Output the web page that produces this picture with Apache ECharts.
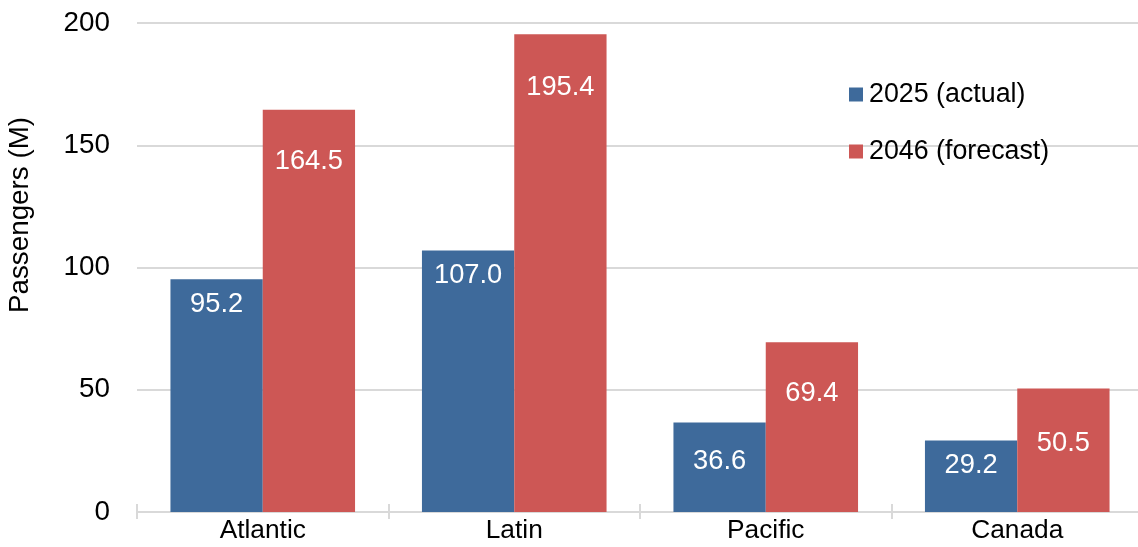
<!DOCTYPE html>
<html>
<head>
<meta charset="utf-8">
<title>Passengers by region</title>
<script src="https://cdn.jsdelivr.net/npm/echarts@6/dist/echarts.min.js"></script>
<style>
  html, body { margin: 0; padding: 0; background: #ffffff; }
  #chart { width: 1138px; height: 547px; }
</style>
</head>
<body>
<div id="chart"></div>
<script>
// Regions and passenger volumes (millions)
const regions = ['Atlantic', 'Latin', 'Pacific', 'Canada'];
const actual2025 = [95.2, 107.0, 36.6, 29.2];
const forecast2046 = [164.5, 195.4, 69.4, 50.5];
const seriesNames = ['2025 (actual)', '2046 (forecast)'];
const yTicks = [0, 50, 100, 150, 200];

// How far each value label sits below the top of its bar
const actualLabelDrop = [12, 12, 25, 11];
const forecastLabelDrop = [38, 40, 38, 41];

const FONT = '"Liberation Sans", Arial, Helvetica, sans-serif';
const BLUE = '#3E6A9B';
const RED = '#CD5755';
const GRID_GRAY = '#D9D9D9';

function barData(values, drops) {
  return values.map((v, i) => ({ value: v, label: { distance: drops[i] } }));
}

const chart = echarts.init(document.getElementById('chart'), null, { renderer: 'canvas' });

chart.setOption({
  animation: false,
  backgroundColor: '#ffffff',
  textStyle: { fontFamily: FONT },
  // plot area runs a few pixels past the right edge of the canvas
  grid: {
    left: 137, width: 1006, top: 23, bottom: 35,
    containLabel: false,
    outerBoundsMode: 'none'
  },
  legend: {
    orient: 'vertical',
    left: 849,
    top: 81,
    padding: 0,
    itemWidth: 14,
    itemHeight: 14,
    itemGap: 30,
    icon: 'rect',
    textStyle: { fontFamily: FONT, fontSize: 26.8, color: '#000000', padding: [0, 0, 0, 1] },
    data: seriesNames
  },
  graphic: [{
    type: 'text',
    x: 20,
    y: 215,
    rotation: Math.PI / 2,
    style: {
      text: 'Passengers (M)',
      fontFamily: FONT,
      fontSize: 27.8,
      fill: '#000000',
      align: 'center',
      verticalAlign: 'middle'
    }
  }],
  xAxis: [{
    type: 'category',
    data: regions,
    axisLine: { show: true, lineStyle: { color: GRID_GRAY, width: 2 } },
    axisTick: { show: true, length: 7, lineStyle: { color: GRID_GRAY, width: 2 } },
    axisLabel: { fontFamily: FONT, fontSize: 26.3, color: '#000000', margin: 6 },
    splitLine: { show: false }
  }, {
    // upper half of the category boundary ticks
    type: 'category',
    data: regions,
    position: 'bottom',
    axisLine: { show: false },
    axisTick: { show: true, inside: true, length: 8, lineStyle: { color: GRID_GRAY, width: 2 } },
    axisLabel: { show: false },
    splitLine: { show: false }
  }],
  yAxis: {
    type: 'value',
    min: yTicks[0],
    max: yTicks[yTicks.length - 1],
    interval: yTicks[1] - yTicks[0],
    axisLine: { show: false },
    axisTick: { show: false },
    axisLabel: { fontFamily: FONT, fontSize: 27.8, color: '#000000', margin: 27 },
    splitLine: { show: true, lineStyle: { color: GRID_GRAY, width: 2 } }
  },
  series: [{
    name: seriesNames[0],
    type: 'bar',
    xAxisIndex: 0,
    barGap: '0%',
    barCategoryGap: '26.6%',
    itemStyle: { color: BLUE },
    label: {
      show: true,
      position: 'insideTop',
      color: '#ffffff',
      fontFamily: FONT,
      fontSize: 27.3,
      formatter: p => p.value.toFixed(1)
    },
    data: barData(actual2025, actualLabelDrop)
  }, {
    name: seriesNames[1],
    type: 'bar',
    xAxisIndex: 0,
    barGap: '0%',
    barCategoryGap: '26.6%',
    itemStyle: { color: RED },
    label: {
      show: true,
      position: 'insideTop',
      color: '#ffffff',
      fontFamily: FONT,
      fontSize: 27.3,
      formatter: p => p.value.toFixed(1)
    },
    data: barData(forecast2046, forecastLabelDrop)
  }]
});
</script>
</body>
</html>
